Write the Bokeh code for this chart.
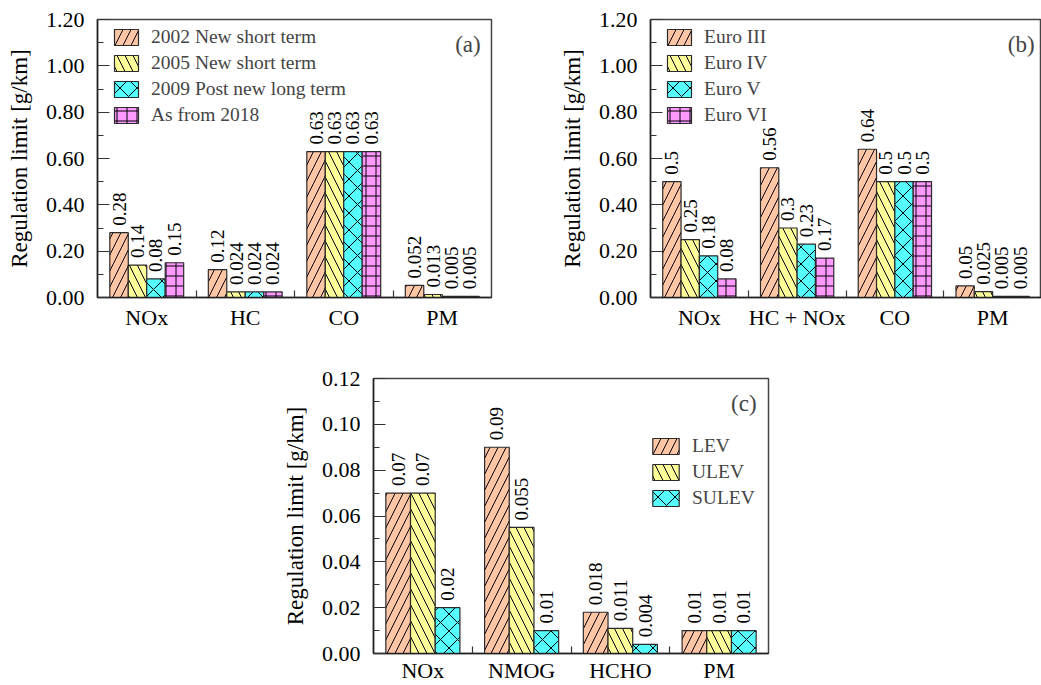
import math

from bokeh.embed import file_html
from bokeh.layouts import column, row
from bokeh.models import (ColumnDataSource, FixedTicker, Label, LabelSet, Legend,
                          LegendItem, NumeralTickFormatter, Range1d, Spacer)
from bokeh.plotting import figure
from bokeh.resources import INLINE

# ---- data -------------------------------------------------------------
a_categories = ["NOx", "HC", "CO", "PM"]
a_series = ["2002 New short term", "2005 New short term",
            "2009 Post new long term", "As from 2018"]
a_2002 = [0.28, 0.12, 0.63, 0.052]
a_2005 = [0.14, 0.024, 0.63, 0.013]
a_2009 = [0.08, 0.024, 0.63, 0.005]
a_2018 = [0.15, 0.024, 0.63, 0.005]
a_yticks = [0.0, 0.2, 0.4, 0.6, 0.8, 1.0, 1.2]

b_categories = ["NOx", "HC + NOx", "CO", "PM"]
b_series = ["Euro III", "Euro IV", "Euro V", "Euro VI"]
b_euro3 = [0.5, 0.56, 0.64, 0.05]
b_euro4 = [0.25, 0.3, 0.5, 0.025]
b_euro5 = [0.18, 0.23, 0.5, 0.005]
b_euro6 = [0.08, 0.17, 0.5, 0.005]
b_yticks = [0.0, 0.2, 0.4, 0.6, 0.8, 1.0, 1.2]

c_categories = ["NOx", "NMOG", "HCHO", "PM"]
c_series = ["LEV", "ULEV", "SULEV"]
c_lev = [0.07, 0.09, 0.018, 0.01]
c_ulev = [0.07, 0.055, 0.011, 0.01]
c_sulev = [0.02, 0.01, 0.004, 0.01]
c_yticks = [0.0, 0.02, 0.04, 0.06, 0.08, 0.10, 0.12]

# ---- styling ----------------------------------------------------------
FONT = "Liberation Serif"
FILLS = ["#FFC6A6", "#FFFF99", "#55FFFF", "#FF99FF"]
HATCHES = ["right_diagonal_line", "left_diagonal_line", "diagonal_cross", "cross"]
HATCH_SCALES = [16, 16, 17, 10]
GROUP_WIDTH = 0.75


def panel(categories, names, series, yticks, tag, width, height, borders,
          legend_loc, tag_pos, xlabel_standoff=7, glyph_width=30):
    left, right, top, bottom = borders
    ymax = yticks[-1]
    p = figure(width=width, height=height, output_backend="svg",
               toolbar_location=None, x_range=Range1d(-0.5, 3.5),
               y_range=Range1d(0, ymax),
               min_border_left=left, min_border_right=right,
               min_border_top=top, min_border_bottom=bottom)
    p.background_fill_color = "white"
    p.border_fill_color = "white"
    p.outline_line_color = "#444444"
    p.outline_line_width = 1.5
    p.xgrid.visible = False
    p.ygrid.visible = False

    n = len(series)
    bw = GROUP_WIDTH / n
    items = []
    for j, (name, vals) in enumerate(zip(names, series)):
        xs = [i + (j - (n - 1) / 2) * bw for i in range(len(categories))]
        src = ColumnDataSource(dict(x=xs, top=vals,
                                    lab=[f"{v:g}" for v in vals]))
        r = p.vbar(x="x", top="top", width=bw, source=src,
                   fill_color=FILLS[j], line_color="#2a2a2a", line_width=1.2,
                   hatch_pattern=HATCHES[j], hatch_color="black",
                   hatch_weight=1, hatch_scale=HATCH_SCALES[j])
        items.append(LegendItem(label=name, renderers=[r]))
        p.add_layout(LabelSet(x="x", y="top", text="lab", source=src,
                              angle=math.pi / 2, text_align="left",
                              text_baseline="middle", y_offset=7,
                              text_font=FONT, text_font_size="19px",
                              text_color="black"))

    legend = Legend(items=items, location=legend_loc, padding=5, margin=0,
                    spacing=4, glyph_width=glyph_width, glyph_height=20,
                    label_height=20, label_standoff=10,
                    label_text_font=FONT, label_text_font_size="19.5px",
                    border_line_color=None, background_fill_alpha=0)
    p.add_layout(legend)

    p.add_layout(Label(x=tag_pos[0], y=tag_pos[1], text=tag,
                       text_align="right", text_baseline="middle",
                       text_font=FONT, text_font_size="23px"))

    xa = p.xaxis[0]
    xa.ticker = FixedTicker(ticks=[0, 1, 2, 3], minor_ticks=[0.5, 1.5, 2.5])
    xa.major_label_overrides = {i: c for i, c in enumerate(categories)}
    xa.major_tick_in = 0
    xa.major_tick_out = 0
    xa.minor_tick_in = 7
    xa.minor_tick_out = 0
    xa.major_label_standoff = xlabel_standoff

    ya = p.yaxis[0]
    minors = [(a + b) / 2 for a, b in zip(yticks[:-1], yticks[1:])]
    ya.ticker = FixedTicker(ticks=yticks, minor_ticks=minors)
    ya.formatter = NumeralTickFormatter(format="0.00")
    ya.major_tick_in = 12
    ya.major_tick_out = 0
    ya.minor_tick_in = 6
    ya.minor_tick_out = 0
    ya.major_label_standoff = 13
    ya.axis_label = "Regulation limit [g/km]"
    ya.axis_label_standoff = 11
    ya.axis_label_text_font_style = "normal"

    for ax in (xa, ya):
        ax.axis_line_color = "#222222"
        ax.axis_line_width = 1.5
        ax.major_tick_line_color = "#333333"
        ax.minor_tick_line_color = "#333333"
        ax.major_tick_line_width = 1.2
        ax.minor_tick_line_width = 1.2
        ax.major_label_text_font = FONT
        ax.major_label_text_font_size = "22px"
        ax.major_label_text_color = "black"
        ax.axis_label_text_font = FONT
        ax.axis_label_text_font_size = "23px"
        ax.axis_label_text_color = "black"
    return p


pa = panel(a_categories, a_series, [a_2002, a_2005, a_2009, a_2018],
           a_yticks, "(a)", 520, 333, (97, 29, 19, 36),
           (14, 171), (3.39, 1.092))
pb = panel(b_categories, b_series, [b_euro3, b_euro4, b_euro5, b_euro6],
           b_yticks, "(b)", 521, 333, (130, 0, 19, 36),
           (14, 171), (3.43, 1.092))
pc = panel(c_categories, c_series, [c_lev, c_ulev, c_sulev],
           c_yticks, "(c)", 520, 352, (103, 22, 45, 30),
           (276, 144), (3.38, 0.1092), xlabel_standoff=4, glyph_width=33)

layout = column(row(pa, pb), row(Spacer(width=270, height=352), pc))

open("out.html", "w").write(file_html(layout, INLINE))
